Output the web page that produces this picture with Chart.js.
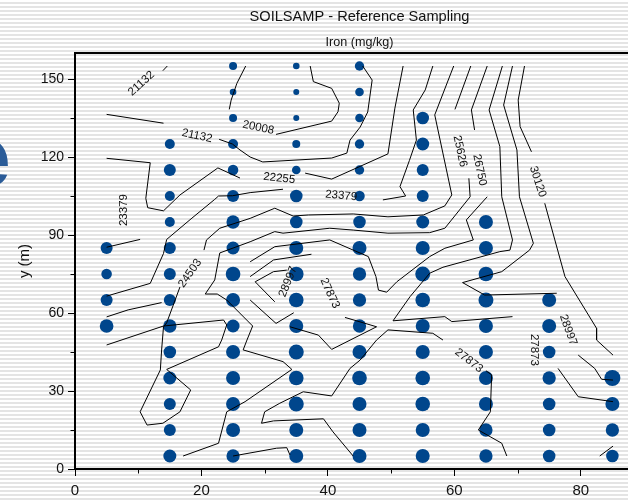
<!DOCTYPE html>
<html>
<head>
<meta charset="utf-8">
<title>SOILSAMP - Reference Sampling</title>
<script src="https://cdn.jsdelivr.net/npm/chart.js@4.4.1/dist/chart.umd.min.js"></script>
<style>
  html, body { margin: 0; padding: 0; overflow: hidden; }
  body {
    width: 628px; height: 500px;
    background: repeating-linear-gradient(to bottom, #fff 0px, #fff 2px, #e4e4e4 2px, #e4e4e4 4px);
  }
  #wrap { position: absolute; left: 0; top: 0; width: 720px; height: 500px; }
</style>
</head>
<body>
<div id="wrap"><canvas id="soilChart" width="720" height="500"></canvas></div>
<script>
// Sampling grid (m) and iron concentration (mg/kg) per column, rows y = 5..155
const gridX = [5, 15, 25, 35, 45, 55, 65, 75, 85];
const gridY = [5, 15, 25, 35, 45, 55, 65, 75, 85, 95, 105, 115, 125, 135, 145, 155];
const iron05 = [null, null, null, null, null, 27500, 25600, 24000, 25600, null, null, null, null, null, null, null];
const iron15 = [26700, 25600, 25600, 26700, 26200, 27000, 25600, 25600, 25600, 23400, 23400, 25600, 23400, null, null, null];
const iron25 = [27000, 27800, 27800, 27800, 27800, 26700, 27800, 28500, 26700, 27000, 25600, 24000, 23400, 21200, 19700, 21200];
const iron35 = [27800, 27800, 28900, 28500, 28900, 27800, 28500, 28500, 27800, 26200, 26200, 21900, 21200, 19000, 19000, 19660];
const iron45 = [27800, 27800, 27800, 28500, 27800, 27000, 27000, 27000, 27800, 26200, 24000, 22700, 22700, 21900, 21900, 22700];
const iron55 = [27800, 27800, 28500, 28500, 27800, 27800, 28500, 28900, 27800, 26700, 25600, 25600, 26700, 26200, null, null];
const iron65 = [27000, 27000, 27800, 27800, 27800, 27800, 28900, 28500, 27800, 27800, null, null, null, null, null, null];
const iron75 = [26200, 26200, 26200, 27000, 26200, 27800, 27800, null, null, null, null, null, null, null, null, null];
const iron85 = [26200, 27000, 27800, 30000, null, null, null, null, null, null, null, null, null, null, null, null];
const ironColumns = [iron05, iron15, iron25, iron35, iron45, iron55, iron65, iron75, iron85];

// Iso-lines of the interpolated surface, one array of paths per level ([x, y] in m)
const iso20008 = [
  [[27.0, 155.0], [25.6, 148.3], [24.7, 141.9], [24.4, 138.3]],
  [[31.8, 128.7], [40.6, 133.8], [41.6, 137.4], [41.8, 140.7], [40.6, 146.4], [37.7, 149.0], [37.2, 155.0]]
];
const iso21132 = [
  [[13.9, 153.2], [14.6, 155.0]],
  [[5.0, 136.4], [14.0, 133.0]],
  [[22.8, 126.8], [24.9, 125.0], [26.1, 122.7], [27.7, 120.0], [29.7, 118.1], [40.6, 119.6], [43.0, 121.5], [43.5, 126.5], [45.1, 131.5], [46.3, 137.3], [47.0, 149.6], [45.5, 155.0]]
];
const iso22255 = [
  [[5.0, 119.5], [11.9, 117.8], [11.2, 104.1], [11.5, 100.5], [14.0, 99.3], [16.6, 105.4], [22.6, 115.8], [26.1, 111.9]],
  [[36.4, 113.8], [40.6, 111.5], [49.5, 121.2], [50.6, 138.8], [51.9, 155.0]]
];
const iso23379 = [
  [[56.6, 155.0], [55.4, 145.8], [53.5, 138.1], [54.0, 126.5], [52.9, 118.7], [51.4, 108.6], [52.3, 105.0], [48.7, 103.5]],
  [[32.9, 107.6], [27.7, 106.3], [24.9, 105.1], [22.7, 105.0], [22.1, 103.7], [18.5, 96.5], [14.5, 88.3], [14.0, 82.9], [11.9, 71.4], [5.0, 66.5]],
  [[5.0, 85.3], [10.3, 88.3]]
];
const iso24503 = [
  [[59.9, 155.0], [56.9, 136.2], [59.6, 105.4], [58.5, 101.2], [55.1, 97.7], [49.5, 97.0], [44.0, 98.1], [36.9, 97.7], [34.5, 97.3], [31.6, 100.3], [27.7, 96.4], [22.9, 92.6], [20.8, 88.1], [20.4, 84.2]],
  [[16.6, 70.0], [14.5, 56.2], [14.0, 54.7]],
  [[5.0, 58.5], [8.4, 61.2], [13.7, 64.0]],
  [[5.0, 47.7], [14.0, 55.0], [23.5, 57.3], [24.0, 55.4], [23.2, 49.6], [22.7, 47.0], [14.5, 38.3], [18.3, 30.4], [16.6, 22.0], [13.9, 17.6], [11.4, 16.9], [10.3, 22.0], [13.5, 38.1], [13.7, 45.8], [14.0, 54.7]]
];
const iso25626 = [
  [[62.6, 155.0], [60.1, 138.3]],
  [[62.3, 111.8], [62.5, 104.7], [58.5, 92.6], [56.1, 90.9], [49.5, 90.7], [44.0, 91.9], [40.3, 92.6], [32.9, 90.7], [31.6, 91.3], [27.7, 87.4], [22.9, 83.1], [22.1, 72.7], [20.6, 67.3], [22.5, 67.3], [24.0, 65.0], [28.1, 55.0], [27.2, 49.6], [26.6, 45.8], [32.9, 41.3], [34.3, 38.3], [26.9, 25.9], [24.0, 22.0], [22.7, 9.9], [17.1, 5.0]]
];
const iso26750 = [
  [[65.2, 155.0], [62.7, 138.1], [63.2, 130.4]],
  [[65.2, 104.7], [61.9, 95.8], [63.0, 88.1], [58.5, 84.9], [56.1, 81.7], [50.9, 72.0], [49.3, 68.0], [48.0, 68.8], [47.6, 74.0], [46.4, 81.7], [44.0, 84.2], [40.3, 88.1], [31.6, 85.5], [27.7, 79.7]],
  [[25.0, 5.0], [31.9, 8.0], [33.5, 8.2], [34.0, 5.4]]
];
const iso27873 = [
  [[67.6, 155.0], [65.5, 138.1], [67.2, 124.0], [67.5, 104.7], [69.2, 88.1], [68.8, 84.2], [67.2, 83.6], [58.2, 77.6], [56.1, 75.3], [53.0, 66.3], [50.3, 57.0], [58.5, 58.6], [59.6, 56.7], [69.2, 58.6]],
  [[44.0, 5.0], [40.8, 14.3], [39.3, 19.3], [31.4, 18.5], [29.5, 17.6], [30.0, 22.0], [32.4, 25.3], [36.1, 29.7], [40.6, 28.1], [43.5, 38.7], [45.1, 41.9], [47.7, 49.6], [49.5, 53.5], [56.6, 52.2], [58.2, 49.6]],
  [[65.0, 37.8], [65.9, 36.2], [65.7, 22.0], [63.8, 15.0], [67.5, 9.9], [68.3, 5.0]],
  [[42.7, 58.3], [47.7, 54.7], [40.6, 46.0], [38.5, 51.5], [34.0, 54.7]],
  [[76.4, 38.7], [79.6, 27.8], [85.1, 25.9]],
  [[27.7, 74.0], [31.4, 80.4], [37.4, 82.6]],
  [[83.0, 5.0], [85.1, 8.8]]
];
const iso28997 = [
  [[69.2, 155.0], [67.8, 140.0], [69.9, 122.7], [70.3, 104.7], [72.5, 86.8], [71.9, 84.2], [67.5, 75.9], [61.3, 71.7], [64.8, 66.9], [76.2, 67.6]],
  [[79.6, 43.8], [82.2, 38.7], [83.3, 34.5], [85.1, 34.2]],
  [[33.5, 76.5], [31.4, 75.9], [28.5, 72.0], [31.6, 64.3]],
  [[27.7, 65.0], [31.8, 56.0], [34.6, 60.1]]
];
const iso30120 = [
  [[71.1, 155.0], [70.1, 141.9], [70.4, 131.7], [72.2, 122.0]],
  [[74.3, 102.2], [75.9, 88.1], [77.5, 74.0], [82.5, 54.1], [82.5, 49.6], [85.1, 43.8]]
];
const isoLevels = [iso20008, iso21132, iso22255, iso23379, iso24503, iso25626, iso26750, iso27873, iso28997, iso30120];

// Inline contour labels
const labelText = ['21132', '21132', '20008', '22255', '23379', '23379', '24503', '25626', '26750', '30120', '28997', '27873', '27873', '27873', '28997'];
const labelX = [10.5, 19.3, 29.0, 32.3, 7.8, 42.1, 18.2, 60.9, 64.0, 73.2, 33.7, 40.3, 62.3, 72.7, 78.0];
const labelY = [148.3, 128.1, 131.3, 111.8, 99.6, 105.1, 75.3, 122.2, 115.0, 110.5, 72.0, 67.6, 41.7, 45.8, 53.5];
const labelAngle = [-42, 12, 12, 6, -90, 5, -55, 78, 78, 72, -68, 65, 38, 90, 70];

// Axis ticks
const xTickValues = [0, 20, 40, 60, 80];
const xMinorTicks = [10, 30, 50, 70];
const yTickValues = [0, 30, 60, 90, 120, 150];
const yMinorTicks = [15, 45, 75, 105, 135];

const FONT = '"Liberation Sans", Arial, sans-serif';
Chart.defaults.font.family = FONT;

// bubble radius grows with concentration
function ironRadius(v) {
  return 3 + (v - 19000) / 2200;
}

const samples = [];
gridX.forEach((x, ci) => {
  ironColumns[ci].forEach((v, ri) => {
    if (v !== null) samples.push({ x: x, y: gridY[ri], r: ironRadius(v), v: v });
  });
});

const datasets = [{
  type: 'bubble',
  data: samples,
  backgroundColor: '#00468c',
  borderWidth: 0,
  hoverRadius: 0,
  order: 2
}];
isoLevels.forEach(paths => {
  paths.forEach(path => {
    datasets.push({
      type: 'line',
      data: path.map(p => ({ x: p[0], y: p[1] })),
      borderColor: '#000',
      borderWidth: 1,
      pointRadius: 0,
      pointHoverRadius: 0,
      tension: 0,
      fill: false,
      order: 1
    });
  });
});

const decorations = {
  id: 'decorations',
  beforeDraw(chart) {
    const ctx = chart.ctx;
    ctx.save();
    ctx.font = 'bold 86px ' + FONT;
    ctx.fillStyle = '#2b5c98';
    ctx.textAlign = 'left';
    ctx.textBaseline = 'alphabetic';
    const m = ctx.measureText('e');
    ctx.fillText('e', 8 - m.actualBoundingBoxRight, 186);
    ctx.restore();
  },
  afterDatasetsDraw(chart) {
    const ctx = chart.ctx;
    const xs = chart.scales.x, ys = chart.scales.y;
    ctx.save();
    ctx.font = '11.5px ' + FONT;
    ctx.fillStyle = '#111';
    ctx.textAlign = 'center';
    ctx.textBaseline = 'middle';
    labelText.forEach((t, i) => {
      ctx.save();
      ctx.translate(xs.getPixelForValue(labelX[i]), ys.getPixelForValue(labelY[i]));
      ctx.rotate(labelAngle[i] * Math.PI / 180);
      ctx.fillText(t, 0, 0);
      ctx.restore();
    });
    ctx.restore();
  },
  afterDraw(chart) {
    const ctx = chart.ctx;
    const a = chart.chartArea;
    const xs = chart.scales.x, ys = chart.scales.y;
    ctx.save();
    // frame top and right
    ctx.strokeStyle = '#000';
    ctx.lineWidth = 2;
    ctx.beginPath();
    ctx.moveTo(a.left - 1, a.top);
    ctx.lineTo(a.right, a.top);
    ctx.lineTo(a.right, a.bottom);
    ctx.stroke();
    // minor ticks
    ctx.lineWidth = 1;
    ctx.beginPath();
    xMinorTicks.forEach(v => {
      const px = Math.round(xs.getPixelForValue(v)) + 0.5;
      ctx.moveTo(px, a.bottom);
      ctx.lineTo(px, a.bottom + 4.5);
    });
    yMinorTicks.forEach(v => {
      const py = Math.round(ys.getPixelForValue(v)) + 0.5;
      ctx.moveTo(a.left - 4.5, py);
      ctx.lineTo(a.left, py);
    });
    ctx.stroke();
    // titles
    const cx = (a.left + a.right) / 2;
    ctx.fillStyle = '#111';
    ctx.textAlign = 'center';
    ctx.textBaseline = 'middle';
    ctx.font = '14.6px ' + FONT;
    ctx.fillText('SOILSAMP - Reference Sampling', cx, 17);
    ctx.font = '12.6px ' + FONT;
    ctx.fillText('Iron (mg/kg)', cx, 43);
    ctx.save();
    ctx.translate(25, (a.top + a.bottom) / 2);
    ctx.rotate(-Math.PI / 2);
    ctx.font = '15px ' + FONT;
    ctx.fillText('y (m)', 0, 0);
    ctx.restore();
    ctx.restore();
  }
};

new Chart(document.getElementById('soilChart'), {
  type: 'bubble',
  data: { datasets: datasets },
  options: {
    responsive: false,
    animation: false,
    devicePixelRatio: 1,
    layout: { padding: { top: 53, right: 76, bottom: 0, left: 0 } },
    plugins: { legend: { display: false }, tooltip: { enabled: false } },
    events: [],
    scales: {
      x: {
        type: 'linear',
        min: 0,
        max: 90,
        afterBuildTicks: s => { s.ticks = xTickValues.map(v => ({ value: v })); },
        afterFit: s => { s.height = 31; },
        grid: { drawOnChartArea: false, drawTicks: true, tickLength: 7, tickColor: '#000', tickWidth: 1 },
        border: { display: true, color: '#000', width: 2 },
        ticks: { padding: 6, color: '#111', font: { size: 15 }, maxRotation: 0, autoSkip: false, callback: v => String(v) }
      },
      y: {
        type: 'linear',
        min: 0,
        max: 160,
        afterBuildTicks: s => { s.ticks = yTickValues.map(v => ({ value: v })); },
        afterFit: s => { s.width = 75; },
        grid: { drawOnChartArea: false, drawTicks: true, tickLength: 7, tickColor: '#000', tickWidth: 1 },
        border: { display: true, color: '#000', width: 2 },
        ticks: { padding: 4, color: '#111', font: { size: 14 }, autoSkip: false, callback: v => String(v) }
      }
    }
  },
  plugins: [decorations]
});
</script>
</body>
</html>
